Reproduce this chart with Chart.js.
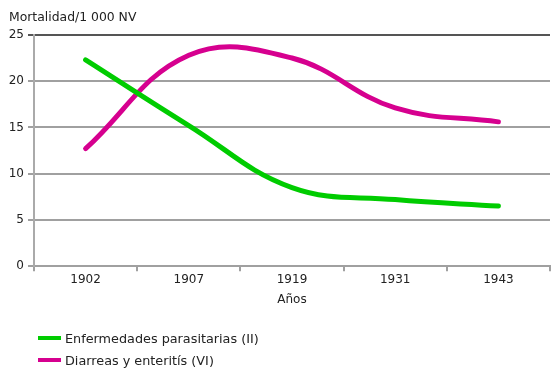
<!DOCTYPE html>
<html>
<head>
<meta charset="utf-8">
<script src="https://cdn.jsdelivr.net/npm/chart.js@4"></script>
<style>
  body { margin: 0; background: white; }
  #wrap { position: relative; width: 554px; height: 372px; }
  #leyenda { position: absolute; left: 38px; top: 327px; font: 12.8px 'DejaVu Sans', Verdana, sans-serif; color: #222; }
  #leyenda div { display: flex; align-items: center; height: 22px; }
  #leyenda span.caja { display: inline-block; width: 23px; height: 4px; margin-right: 4px; }
</style>
</head>
<body>
<div id="wrap">
  <canvas id="grafico"></canvas>
  <div id="leyenda"></div>
</div>
<script>
const anios = ['1902', '1907', '1919', '1931', '1943'];
const parasitarias = [22.3, 15.2, 8.5, 7.2, 6.5];
const diarreas = [12.7, 22.8, 22.5, 17.1, 15.6];
const nombres = ['Enfermedades parasitarias (II)', 'Diarreas y enteritís (VI)'];
const colores = ['#00cc00', '#d6008f'];

Chart.defaults.font.family = "'DejaVu Sans', Verdana, sans-serif";
Chart.defaults.font.size = 12;
Chart.defaults.color = '#222';

let ctx = document.getElementById('grafico');

const data = {
    labels: anios,
    datasets: [{
        label: nombres[0],
        data: parasitarias,
        borderColor: colores[0],
        backgroundColor: colores[0]
    }, {
        label: nombres[1],
        data: diarreas,
        borderColor: colores[1],
        backgroundColor: colores[1]
    }]
}

const chart = new Chart(ctx, {
    type: 'line',
    data: data,
    options: {
        responsive: true,
        maintainAspectRatio: false,
        animation: false,
        layout: { padding: { left: 9, right: 4, top: 0, bottom: 65 } },
        elements: {
            line: { borderWidth: 5, tension: 0.4, borderCapStyle: 'round', borderJoinStyle: 'round' },
            point: { radius: 0, hoverRadius: 0 }
        },
        plugins: {
            legend: { display: false },
            tooltip: { enabled: false },
            title: {
                display: true,
                text: 'Mortalidad/1 000 NV',
                align: 'start',
                color: '#222',
                font: { size: 12.4, weight: 'normal' },
                padding: { top: 10, bottom: 10 }
            }
        },
        scales: {
            x: {
                offset: true,
                grid: { drawOnChartArea: false, offset: true, tickLength: 5, color: '#a0a0a0', lineWidth: 2 },
                border: { color: '#a0a0a0', width: 2 },
                ticks: { padding: 1, color: '#222' },
                title: { display: true, text: 'Años', color: '#222', padding: { top: 5, bottom: 0 } }
            },
            y: {
                min: 0,
                max: 25,
                afterFit: function (scale) { scale.width = 25; },
                ticks: { stepSize: 5, padding: 4, color: '#222' },
                grid: {
                    tickLength: 6,
                    lineWidth: 2,
                    color: function (c) { return c.tick && c.tick.value === 25 ? '#555' : '#a0a0a0'; }
                },
                border: { color: '#aaa', width: 2 }
            }
        }
    }
});

// leyenda en html, una serie por renglon
let leyenda = document.getElementById('leyenda');
chart.data.datasets.forEach(function (ds) {
    let fila = document.createElement('div');
    let caja = document.createElement('span');
    caja.className = 'caja';
    caja.style.background = ds.borderColor;
    fila.appendChild(caja);
    fila.appendChild(document.createTextNode(ds.label));
    leyenda.appendChild(fila);
});
</script>
</body>
</html>
